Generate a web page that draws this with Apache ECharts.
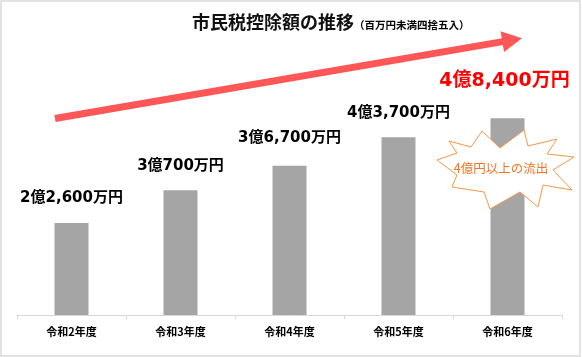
<!DOCTYPE html>
<html>
<head>
<meta charset="utf-8">
<script src="https://cdn.jsdelivr.net/npm/echarts@6/dist/echarts.min.js"></script>
<style>html,body{margin:0;padding:0;background:#fff}#c{width:582px;height:357px}</style>
</head>
<body>
<div id="c"></div>
<script>
// ---- data ----
const categories = ['令和2年度', '令和3年度', '令和4年度', '令和5年度', '令和6年度'];
const values = [226, 307, 367, 437, 484]; // 百万円
const valueLabels = ['2億2,600万円', '3億700万円', '3億6,700万円', '4億3,700万円', '4億8,400万円'];
const titleText = '市民税控除額の推移';
const subTitleText = '（百万円未満四捨五入）';
const calloutText = '4億円以上の流出';

const chart = echarts.init(document.getElementById('c'), null, {renderer: 'canvas'});
const labelFont = "'DejaVu Sans','Noto Sans CJK JP',sans-serif";

const seriesData = values.map((v, i) => {
  if (i === values.length - 1) {
    return {value: v, label: {color: '#ff0000', fontSize: 19, distance: 28, offset: [-3, 0]}};
  }
  if (i === 2) return {value: v, label: {offset: [0, -3]}};
  return v;
});

// starburst decoration
const burst = [[437,160],[457,153],[449,141],[471,147],[482,131],[500,148],[524,130],[528,146],[557,139],[547,154],[574,157],[553,170],[572,190],[543,185],[538,207],[520,192],[490,209],[484,192],[452,187],[457,175]];

// arrow geometry (decoration)
const tip = [522, 38.3], start = [55, 118.5];
const dx = tip[0]-start[0], dy = tip[1]-start[1], L = Math.hypot(dx, dy);
const ux = dx/L, uy = dy/L, nx = -uy, ny = ux;
const hl = 20, hw = 10.5;
const bc = [tip[0]-hl*ux, tip[1]-hl*uy];

chart.setOption({
  animation: false,
  backgroundColor: '#ffffff',
  title: {
    text: '{a|' + titleText + '}{b|' + subTitleText + '}',
    left: 187, top: 4,
    textStyle: {
      rich: {
        a: {fontSize: 18, fontWeight: 'bold', color: '#111', fontFamily: "'Noto Sans CJK JP',sans-serif", lineHeight: 26},
        b: {fontSize: 10.5, fontWeight: 'bold', color: '#000', fontFamily: "'Noto Sans CJK JP',sans-serif", lineHeight: 26, padding: [6, 0, 0, 0]}
      }
    }
  },
  grid: {left: 17, right: 20, top: 71, bottom: 42, containLabel: false},
  xAxis: {
    type: 'category',
    data: categories,
    axisLine: {lineStyle: {color: '#d9d9d9', width: 1}},
    axisTick: {show: true, length: 4, lineStyle: {color: '#d9d9d9'}},
    axisLabel: {color: '#000', fontSize: 11, fontWeight: 'bold', margin: 11, fontFamily: "'Noto Sans CJK JP',sans-serif"}
  },
  yAxis: {type: 'value', min: 0, max: 600, show: false, splitLine: {show: false}},
  series: [{
    type: 'bar',
    data: seriesData,
    barWidth: 34,
    itemStyle: {color: '#a5a5a5'},
    label: {
      show: true,
      position: 'top',
      distance: 17,
      color: '#000',
      fontSize: 15,
      fontWeight: 'bold',
      fontFamily: labelFont,
      formatter: p => valueLabels[p.dataIndex]
    },
    z: 2
  }],
  graphic: [
    {type: 'rect', shape: {x: 1, y: 1, width: 579, height: 355}, style: {fill: null, stroke: '#d9d9d9', lineWidth: 1.5}, z: 1, silent: true},
    {type: 'line', shape: {x1: start[0], y1: start[1], x2: bc[0]+ux*0.5, y2: bc[1]+uy*0.5}, style: {stroke: '#ff5757', lineWidth: 7}, z: 10},
    {type: 'polygon', shape: {points: [tip, [bc[0]+hw*nx, bc[1]+hw*ny], [bc[0]-hw*nx, bc[1]-hw*ny]]}, style: {fill: '#ff5757'}, z: 10},
    {type: 'polygon', shape: {points: burst}, style: {fill: '#ffffff', stroke: '#f79646', lineWidth: 1}, z: 20},
    {type: 'text', x: 501, y: 168, style: {text: calloutText, fill: '#f47320', font: "12.5px 'Noto Sans CJK JP',sans-serif", align: 'center', verticalAlign: 'middle'}, z: 21}
  ]
});
</script>
</body>
</html>
